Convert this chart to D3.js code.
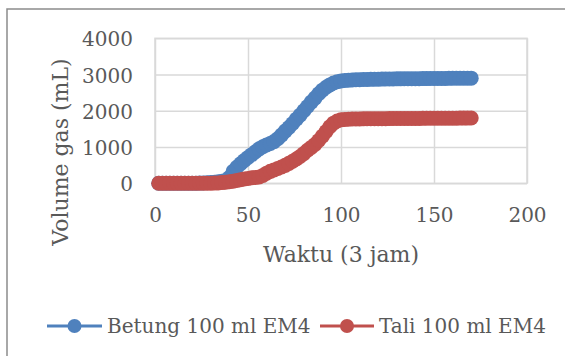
<!DOCTYPE html>
<html>
<head>
<meta charset="utf-8">
<script src="https://cdn.jsdelivr.net/npm/d3@7"></script>
<style>
  html, body { margin: 0; padding: 0; background: #fff; }
  svg { display: block; }
</style>
</head>
<body>
<svg id="chart" width="565" height="356"></svg>
<script>
// Sampling times (units of 3 hours)
const waktu = [2,4,6,8,10,12,14,16,18,20,22,24,26,28,30,32,34,36,38,40,
  42,44,46,48,50,52,54,56,58,60,62,64,66,68,70,72,74,76,78,80,
  82,84,86,88,90,92,94,96,98,100,102,104,106,108,110,112,114,116,118,120,
  122,124,126,128,130,132,134,136,138,140,142,144,146,148,150,152,154,156,158,160,
  162,164,166,168,170];

// Cumulative gas volume (mL)
const betung = [0,0,0,0,0,0,0,0,0,0,0,5,10,15,20,30,40,55,80,160,
  330,440,540,630,710,790,870,950,1010,1060,1100,1150,1230,1330,1440,1540,1650,1770,1880,2000,
  2120,2240,2350,2470,2570,2650,2715,2765,2800,2822,2835,2845,2850,2855,2860,2862,2865,2867,2870,2872,
  2874,2876,2878,2880,2881,2882,2883,2884,2885,2886,2887,2888,2889,2890,2891,2892,2893,2894,2895,2896,
  2897,2898,2899,2900,2900];

const tali = [0,0,0,0,0,0,0,0,0,0,0,0,0,0,0,5,10,20,30,45,
  60,80,100,120,135,150,160,175,215,280,330,370,410,450,495,550,610,670,740,820,
  910,990,1070,1180,1300,1430,1560,1660,1720,1750,1762,1768,1772,1775,1777,1778,1779,1780,1781,1782,
  1783,1784,1785,1786,1786,1787,1788,1789,1790,1790,1791,1792,1793,1794,1794,1795,1795,1796,1796,1797,
  1797,1798,1798,1799,1800];

const seriesNames = ["Betung 100 ml EM4", "Tali 100 ml EM4"];
const seriesColors = ["#4f81bd", "#c0504d"];
const xTicks = [0, 50, 100, 150, 200];
const yTicks = [0, 1000, 2000, 3000, 4000];
const xTitle = "Waktu (3 jam)";
const yTitle = "Volume gas (mL)";

const svg = d3.select("#chart");
const font = "'DejaVu Serif', 'Liberation Serif', serif";
const textColor = "#595959";
const gridColor = "#d9d9d9";

// Chart frame
svg.append("path")
  .attr("d", "M7,356 V9 H565")
  .attr("fill", "none")
  .attr("stroke", "#8c8c8c")
  .attr("stroke-width", 1.5);

const plot = { left: 155, right: 527, top: 38.3, bottom: 183.3 };
const x = d3.scaleLinear().domain([0, 200]).range([plot.left, plot.right]);
const y = d3.scaleLinear().domain([0, 4000]).range([plot.bottom, plot.top]);

// Gridlines
const gx = svg.append("g")
  .attr("transform", `translate(0,${plot.bottom})`)
  .call(d3.axisBottom(x).tickValues(xTicks).tickSize(-(plot.bottom - plot.top)).tickFormat(""));
const gy = svg.append("g")
  .attr("transform", `translate(${plot.left},0)`)
  .call(d3.axisLeft(y).tickValues(yTicks).tickSize(-(plot.right - plot.left)).tickFormat(""));
[gx, gy].forEach(g => {
  g.select(".domain").remove();
  g.selectAll(".tick line").attr("stroke", gridColor).attr("stroke-width", 1.5);
});
svg.append("rect")
  .attr("x", plot.left).attr("y", plot.top)
  .attr("width", plot.right - plot.left).attr("height", plot.bottom - plot.top)
  .attr("fill", "none").attr("stroke", gridColor).attr("stroke-width", 1.5);

// Tick labels
const xl = svg.append("g")
  .attr("transform", `translate(0,215)`)
  .call(d3.axisBottom(x).tickValues(xTicks).tickSize(0).tickPadding(0).tickFormat(d3.format("d")));
xl.select(".domain").remove();
xl.selectAll("text")
  .attr("y", 0).attr("dy", "0.36em")
  .style("font-family", font).style("font-size", "20px").attr("fill", textColor);

const yl = svg.append("g")
  .attr("transform", `translate(133,0)`)
  .call(d3.axisLeft(y).tickValues(yTicks).tickSize(0).tickPadding(0).tickFormat(d3.format("d")));
yl.select(".domain").remove();
yl.selectAll("text")
  .attr("dy", "0.38em").attr("x", 0)
  .style("font-family", font).style("font-size", "20px").attr("fill", textColor);

// Axis titles
svg.append("text")
  .attr("x", (plot.left + plot.right) / 2).attr("y", 262)
  .attr("text-anchor", "middle")
  .style("font-family", font).style("font-size", "22px").attr("fill", textColor)
  .text(xTitle);
svg.append("text")
  .attr("transform", "translate(68,152) rotate(-90)")
  .attr("text-anchor", "middle")
  .style("font-family", font).style("font-size", "22px").attr("fill", textColor)
  .text(yTitle);

// Series
const seriesData = [betung, tali];
const line = d3.line().x(d => x(d[0])).y(d => y(d[1]));
seriesData.forEach((vals, i) => {
  const pts = waktu.map((w, j) => [w, vals[j]]);
  const g = svg.append("g");
  g.append("path").datum(pts)
    .attr("d", line).attr("fill", "none")
    .attr("stroke", seriesColors[i]).attr("stroke-width", 3);
  g.selectAll("circle").data(pts).join("circle")
    .attr("cx", d => x(d[0])).attr("cy", d => y(d[1]))
    .attr("r", 7.5)
    .attr("fill", seriesColors[i]);
});

// Legend
const legendItems = [
  { x0: 47, x1: 102, tx: 107 },
  { x0: 320, x1: 374, tx: 379 }
];
const ly = 326;
legendItems.forEach((it, i) => {
  svg.append("line")
    .attr("x1", it.x0).attr("x2", it.x1).attr("y1", ly).attr("y2", ly)
    .attr("stroke", seriesColors[i]).attr("stroke-width", 3);
  svg.append("circle")
    .attr("cx", (it.x0 + it.x1) / 2).attr("cy", ly).attr("r", 7)
    .attr("fill", seriesColors[i]);
  svg.append("text")
    .attr("x", it.tx).attr("y", ly).attr("dy", "0.35em")
    .style("font-family", font).style("font-size", "20px").attr("fill", textColor)
    .text(seriesNames[i]);
});
</script>
</body>
</html>
